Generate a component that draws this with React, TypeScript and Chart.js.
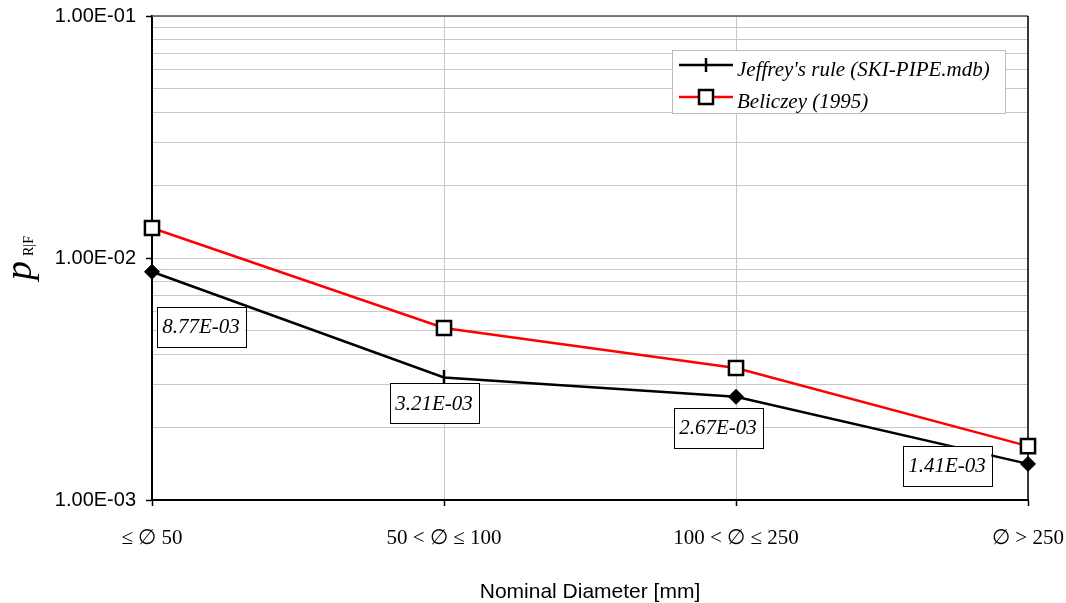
import React, { useEffect, useRef } from 'react';
import { Chart, registerables } from 'chart.js';

Chart.register(...registerables);

const categories = ['≤ ∅ 50', '50 < ∅ ≤ 100', '100 < ∅ ≤ 250', '∅ > 250'];
const jeffreyValues = [8.77e-3, 3.21e-3, 2.67e-3, 1.41e-3];
const beliczeyValues = [1.33e-2, 5.14e-3, 3.51e-3, 1.67e-3];
const jeffreyLabels = ['8.77E-03', '3.21E-03', '2.67E-03', '1.41E-03'];
const jeffreyMarkers = ['diamond', 'tick', 'diamond', 'diamond'];
const seriesNames = ["Jeffrey's rule (SKI-PIPE.mdb)", 'Beliczey (1995)'];
const yTickValues = [1e-3, 1e-2, 1e-1];
const yTickLabels = ['1.00E-03', '1.00E-02', '1.00E-01'];
const minorMultipliers = [1, 2, 3, 4, 5, 6, 7, 8, 9];
const xTitle = 'Nominal Diameter [mm]';

// label box offsets from their point (pixels)
const labelOffsets = [
  [49, 55],
  [-10, 26],
  [-18, 31],
  [-81, 2],
];

const SERIF = '"Liberation Serif", "Times New Roman", serif';
const SANS = '"Liberation Sans", Arial, sans-serif';

function isDecade(v: number) {
  const l = Math.log10(v);
  return Math.abs(l - Math.round(l)) < 1e-9;
}

const decorPlugin = {
  id: 'decor',
  beforeDatasetsDraw(chart: any) {
    const { ctx, chartArea } = chart;
    ctx.save();
    ctx.strokeStyle = '#555';
    ctx.lineWidth = 1.5;
    ctx.beginPath();
    ctx.moveTo(chartArea.left, chartArea.top);
    ctx.lineTo(chartArea.right, chartArea.top);
    ctx.stroke();
    ctx.strokeStyle = '#000';
    ctx.beginPath();
    ctx.moveTo(chartArea.right, chartArea.top);
    ctx.lineTo(chartArea.right, chartArea.bottom);
    ctx.stroke();
    ctx.restore();
  },
  afterDatasetsDraw(chart: any) {
    const { ctx, chartArea } = chart;
    const meta = chart.getDatasetMeta(0);
    ctx.save();
    ctx.font = `italic 21px ${SERIF}`;
    meta.data.forEach((pt: any, i: number) => {
      const [dx, dy] = labelOffsets[i];
      const cx = pt.x + dx;
      const cy = pt.y + dy;
      const text = jeffreyLabels[i];
      const w = ctx.measureText(text).width + 11;
      const h = 40;
      ctx.fillStyle = '#fff';
      ctx.fillRect(cx - w / 2, cy - h / 2, w, h);
      ctx.strokeStyle = '#000';
      ctx.lineWidth = 1;
      ctx.strokeRect(Math.round(cx - w / 2) + 0.5, Math.round(cy - h / 2) + 0.5, Math.round(w), h);
      ctx.fillStyle = '#000';
      ctx.textAlign = 'center';
      ctx.textBaseline = 'middle';
      ctx.fillText(text, cx, cy + 1);
    });

    // legend
    const lx = 672, ly = 50, lw = 333, lh = 63;
    ctx.fillStyle = '#fff';
    ctx.fillRect(lx, ly, lw, lh);
    ctx.strokeStyle = '#bdbdbd';
    ctx.lineWidth = 1;
    ctx.strokeRect(lx + 0.5, ly + 0.5, lw, lh);
    const rows = [65, 97];
    chart.data.datasets.forEach((ds: any, i: number) => {
      const y = rows[i];
      ctx.strokeStyle = ds.borderColor;
      ctx.lineWidth = 2.5;
      ctx.beginPath();
      ctx.moveTo(679, y);
      ctx.lineTo(733, y);
      ctx.stroke();
      const mx = 706;
      if (i === 0) {
        ctx.strokeStyle = '#000';
        ctx.lineWidth = 2.5;
        ctx.beginPath();
        ctx.moveTo(mx, y - 7);
        ctx.lineTo(mx, y + 7);
        ctx.stroke();
      } else {
        ctx.fillStyle = '#fff';
        ctx.fillRect(mx - 7, y - 7, 14, 14);
        ctx.strokeStyle = '#000';
        ctx.lineWidth = 2.5;
        ctx.strokeRect(mx - 7, y - 7, 14, 14);
      }
      ctx.fillStyle = '#000';
      ctx.font = `italic 21px ${SERIF}`;
      ctx.textAlign = 'left';
      ctx.textBaseline = 'alphabetic';
      ctx.fillText(seriesNames[i], 737, y + 11);
    });

    // x title
    ctx.font = `21px ${SANS}`;
    ctx.textAlign = 'center';
    ctx.textBaseline = 'middle';
    ctx.fillStyle = '#000';
    ctx.fillText(xTitle, (chartArea.left + chartArea.right) / 2, 592);

    // y title
    ctx.save();
    ctx.translate(31, (chartArea.top + chartArea.bottom) / 2);
    ctx.rotate(-Math.PI / 2);
    ctx.font = `italic 38px ${SERIF}`;
    const wp = ctx.measureText('p').width;
    ctx.font = `14px ${SERIF}`;
    const ws = ctx.measureText('R|F').width;
    const gap = 5;
    const total = wp + gap + ws;
    ctx.textAlign = 'left';
    ctx.textBaseline = 'alphabetic';
    ctx.font = `italic 38px ${SERIF}`;
    ctx.fillText('p', -total / 2, 0);
    ctx.font = `14px ${SERIF}`;
    ctx.fillText('R|F', -total / 2 + wp + gap, 2);
    ctx.restore();

    ctx.restore();
  },
};

export default function App() {
  const ref = useRef<HTMLCanvasElement | null>(null);
  useEffect(() => {
    if (!ref.current) return;
    const chart = new Chart(ref.current, {
      type: 'line',
      data: {
        labels: categories,
        datasets: [
          {
            label: seriesNames[0],
            data: jeffreyValues,
            borderColor: '#000',
            borderWidth: 2.5,
            tension: 0,
            fill: false,
            pointStyle: (c: any) => (jeffreyMarkers[c.dataIndex] === 'tick' ? 'line' : 'rectRot'),
            pointRotation: (c: any) => (jeffreyMarkers[c.dataIndex] === 'tick' ? 90 : 0),
            pointRadius: 7.5,
            pointBorderWidth: (c: any) => (jeffreyMarkers[c.dataIndex] === 'tick' ? 2.5 : 1),
            pointBackgroundColor: '#000',
            pointBorderColor: '#000',
          },
          {
            label: seriesNames[1],
            data: beliczeyValues,
            borderColor: '#ff0000',
            borderWidth: 2.5,
            tension: 0,
            fill: false,
            pointStyle: 'rect',
            pointRadius: 10,
            pointBorderWidth: 2.5,
            pointBackgroundColor: '#fff',
            pointBorderColor: '#000',
          },
        ],
      },
      options: {
        responsive: false,
        animation: false,
        devicePixelRatio: 1,
        layout: { padding: { left: 0, top: 16, right: 38, bottom: 0 } },
        plugins: {
          legend: { display: false },
          tooltip: { enabled: false },
          title: { display: false },
        },
        scales: {
          x: {
            type: 'category',
            offset: false,
            afterFit: (s: any) => {
              s.height = 103;
              s.paddingLeft = 0;
              s.paddingRight = 0;
            },
            grid: {
              color: '#c8c8c8',
              lineWidth: 1,
              tickLength: 6,
              tickColor: '#000',
              tickWidth: 1.5,
            },
            border: { color: '#000', width: 2 },
            ticks: {
              autoSkip: false,
              maxRotation: 0,
              padding: 20,
              color: '#000',
              font: { family: SERIF, size: 21 },
            },
          },
          y: {
            type: 'logarithmic',
            min: yTickValues[0],
            max: yTickValues[yTickValues.length - 1],
            afterFit: (s: any) => {
              s.width = 152;
              s.paddingTop = 0;
              s.paddingBottom = 0;
            },
            afterBuildTicks: (s: any) => {
              const vals: number[] = [];
              for (let d = 0; d < yTickValues.length - 1; d++) {
                minorMultipliers.forEach((m) => vals.push(parseFloat((m * yTickValues[d]).toPrecision(6))));
              }
              vals.push(yTickValues[yTickValues.length - 1]);
              s.ticks = vals.map((v) => ({ value: v }));
            },
            grid: {
              color: '#c8c8c8',
              lineWidth: 1,
              tickLength: 6,
              tickWidth: 1.5,
              tickColor: (c: any) => (c.tick && isDecade(c.tick.value) ? '#000' : 'rgba(0,0,0,0)'),
            },
            border: { color: '#000', width: 2 },
            ticks: {
              autoSkip: false,
              padding: 10,
              color: '#000',
              font: { family: SANS, size: 20 },
              callback: (v: any) => {
                const idx = yTickValues.findIndex((t) => Math.abs(Math.log10(t) - Math.log10(Number(v))) < 1e-9);
                return idx >= 0 ? yTickLabels[idx] : '';
              },
            },
          },
        },
      },
      plugins: [decorPlugin],
    } as any);
    return () => chart.destroy();
  }, []);
  return (
    <div style={{ position: 'absolute', left: 0, top: 0, width: 1066, height: 603, background: '#fff' }}>
      <canvas ref={ref} width={1066} height={603} style={{ display: 'block' }} />
    </div>
  );
}
